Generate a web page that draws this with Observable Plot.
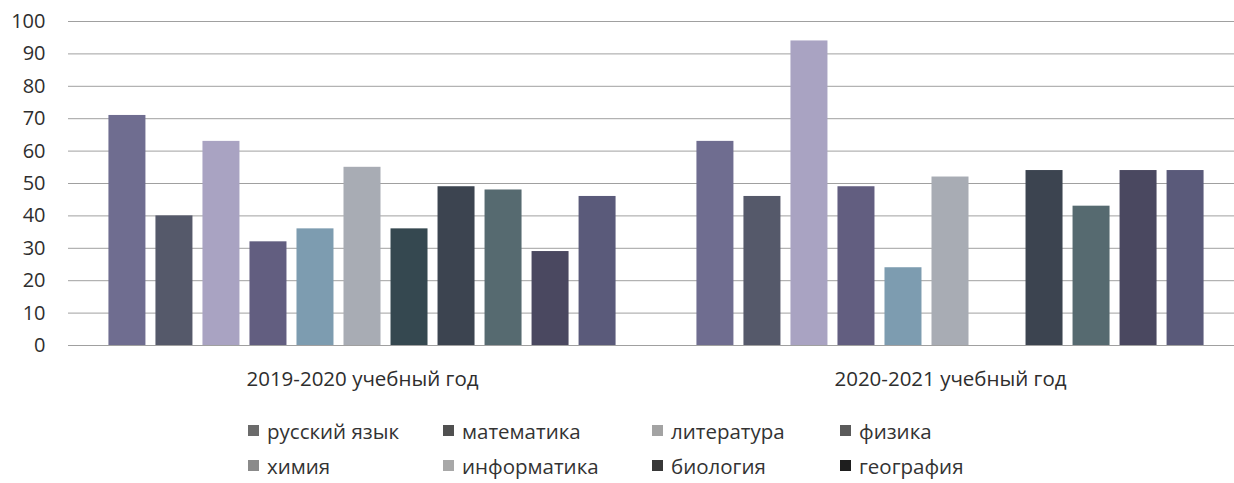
<!DOCTYPE html>
<html>
<head>
<meta charset="utf-8">
<script src="https://cdn.jsdelivr.net/npm/d3@7"></script>
<script src="https://cdn.jsdelivr.net/npm/@observablehq/plot@0.6"></script>
<style>
  body { margin: 0; background: #fff; font-family: "Open Sans", sans-serif; }
  #legend {
    display: grid;
    grid-template-columns: 195px 209px 188px 200px;
    grid-auto-rows: 35px;
    padding-left: 248px;
    padding-top: 13px;
    font-size: 20.5px;
    color: #333;
  }
  .item { display: flex; align-items: center; white-space: nowrap; }
  .sw { width: 11px; height: 11px; margin-right: 8px; flex: none; }
</style>
</head>
<body>
<div id="chart"></div>
<div id="legend"></div>
<script>
const years = ["2019-2020 учебный год", "2020-2021 учебный год"];
const subjects = ["русский язык", "математика", "литература", "физика", "химия", "информатика", "биология", "география", "история", "обществознание", "английский язык"];
const values2019 = [71, 40, 63, 32, 36, 55, 36, 49, 48, 29, 46];
const values2020 = [63, 46, 94, 49, 24, 52, null, 54, 43, 54, 54];
const yTicks = [0, 10, 20, 30, 40, 50, 60, 70, 80, 90, 100];
// only the first two legend rows are visible in the reference
const legendSubjects = subjects.slice(0, 8);

const barColors = ["#6f6d90", "#55596a", "#a9a3c2", "#625e80", "#7d9cb0", "#a8acb4", "#354850", "#3c4450", "#566a70", "#4a4860", "#5a5a7a"];
const swatchColors = ["#6b6b6b", "#505050", "#a3a3a3", "#5a5a5a", "#8a8a8a", "#a8a8a8", "#383838", "#1e1e1e"];

const data = [];
subjects.forEach((s, i) => {
  data.push({year: years[0], subject: s, value: values2019[i]});
  data.push({year: years[1], subject: s, value: values2020[i]});
});

const chart = Plot.plot({
  width: 1234,
  height: 400,
  marginLeft: 67,
  marginRight: -10,
  marginTop: 21,
  marginBottom: 55,
  style: {fontSize: "20px", fontFamily: "Open Sans", color: "#2e2e2e", background: "#fff"},
  fx: {domain: years, padding: 0, label: null, axis: "bottom", tickSize: 0, tickPadding: 26},
  x: {domain: subjects, paddingInner: 0.213, paddingOuter: 0.86, round: false, axis: null},
  y: {domain: [0, 100], ticks: yTicks, label: null, tickSize: 0, tickPadding: 23, grid: false},
  color: {domain: subjects, range: barColors},
  marks: [
    Plot.ruleY(yTicks, {stroke: "#a0a0a0", strokeWidth: 1}),
    Plot.barY(data.filter(d => d.value != null), {fx: "year", x: "subject", y: "value", fill: "subject"})
  ]
});
chart.querySelectorAll("text").forEach(t => {
  if (t.textContent.includes("учебный")) t.style.fontSize = "20.5px";
});
document.getElementById("chart").appendChild(chart);

const legend = document.getElementById("legend");
legendSubjects.forEach((s, i) => {
  const it = document.createElement("div");
  it.className = "item";
  const sw = document.createElement("span");
  sw.className = "sw";
  sw.style.background = swatchColors[i];
  it.appendChild(sw);
  it.appendChild(document.createTextNode(s));
  legend.appendChild(it);
});
</script>
</body>
</html>
